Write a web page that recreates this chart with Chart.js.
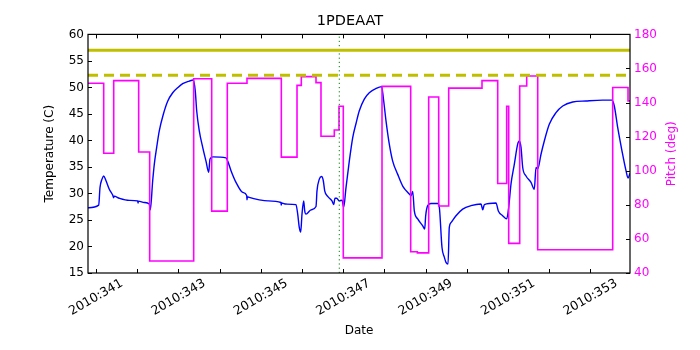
<!DOCTYPE html>
<html>
<head>
<meta charset="utf-8">
<script src="https://cdn.jsdelivr.net/npm/chart.js@4"></script>
<style>
  html, body { margin: 0; padding: 0; background: #fff; }
  #wrap { width: 700px; height: 350px; }
</style>
</head>
<body>
<div id="wrap"><canvas id="chart"></canvas></div>
<script>
// ---------------- Data ----------------
const xMin = 340.806;
const xMax = 353.961;
const dayTicks = [341, 342, 343, 344, 345, 346, 347, 348, 349, 350, 351, 352, 353];

const limitSolid = 57.0;
const limitDashed = 52.3;
const markerDay = 346.905;

// 1PDEAAT temperature (C)
const tempDays = [
  340.806, 341.066, 341.097, 341.146, 341.187, 341.243, 341.323, 341.405, 341.430, 341.440,
  341.566, 341.808, 342.012, 342.020, 342.030, 342.172, 342.294, 342.318, 342.376, 342.415,
  342.473, 342.536, 342.633, 342.740, 342.862, 342.990, 343.104, 343.265, 343.362, 343.410,
  343.444, 343.507, 343.590, 343.670, 343.735, 343.767, 343.833, 344.155, 344.197, 344.277,
  344.398, 344.561, 344.658, 344.665, 344.675, 344.721, 344.964, 345.175, 345.490, 345.495,
  345.505, 345.612, 345.854, 345.896, 345.934, 345.968, 346.000, 346.041, 346.066, 346.097,
  346.218, 346.340, 346.364, 346.420, 346.478, 346.517, 346.551, 346.624, 346.728, 346.769,
  346.801, 346.842, 346.905, 346.971, 347.012, 347.068, 347.148, 347.231, 347.311, 347.391,
  347.512, 347.633, 347.796, 347.934, 347.973, 348.039, 348.119, 348.201, 348.323, 348.444,
  348.604, 348.646, 348.687, 348.726, 348.808, 348.930, 348.978, 349.002, 349.051, 349.131,
  349.294, 349.333, 349.398, 349.454, 349.495, 349.544, 349.575, 349.617, 349.738, 349.900,
  350.102, 350.345, 350.386, 350.425, 350.709, 350.765, 350.871, 350.968, 351.017, 351.073,
  351.153, 351.235, 351.274, 351.316, 351.357, 351.437, 351.558, 351.638, 351.680, 351.721,
  351.801, 351.881, 352.002, 352.165, 352.328, 352.570, 352.893, 353.299, 353.524, 353.580,
  353.663, 353.767, 353.864, 353.913, 353.961
];
const tempValues = [
  27.3, 27.8, 31.1, 32.7, 33.3, 32.4, 30.8, 29.7, 29.2, 29.5,
  29.1, 28.7, 28.6, 28.2, 28.55, 28.3, 28.0, 26.9, 32.4, 35.5,
  38.7, 41.8, 44.9, 47.4, 49.0, 50.0, 50.7, 51.2, 51.4, 49.3,
  45.6, 41.8, 38.7, 36.1, 34.0, 36.5, 36.9, 36.7, 36.1, 34.3,
  32.1, 30.2, 29.6, 28.8, 29.4, 29.25, 28.8, 28.6, 28.3, 27.8,
  28.2, 28.0, 27.9, 26.1, 23.6, 22.7, 26.1, 28.6, 26.7, 26.1,
  26.9, 27.55, 30.5, 32.7, 33.2, 32.4, 30.5, 29.45, 28.6, 27.9,
  29.1, 29.1, 28.6, 28.75, 27.4, 31.1, 36.1, 40.55, 43.2, 45.6,
  47.8, 49.0, 49.8, 50.15, 48.1, 43.7, 39.3, 36.1, 33.6, 31.4,
  29.9, 29.55, 30.4, 26.7, 25.2, 23.9, 23.3, 25.8, 27.7, 28.1,
  28.1, 27.4, 19.8, 18.0, 17.0, 16.7, 23.6, 24.5, 25.8, 27.05,
  27.7, 28.0, 26.9, 27.9, 28.2, 26.7, 25.8, 25.2, 27.4, 31.8,
  35.5, 39.3, 39.9, 38.7, 34.9, 33.3, 32.1, 30.8, 34.9, 34.6,
  37.4, 39.9, 43.05, 45.25, 46.5, 47.25, 47.45, 47.6, 47.6, 46.5,
  42.4, 38.0, 34.3, 32.9, 33.8
];

// Pitch (deg), value holds from each day until the next one
const pitchDays = [
  340.806, 341.187, 341.430, 342.036, 342.303, 343.371, 343.808, 344.187, 344.665, 345.498,
  345.879, 345.983, 346.340, 346.461, 346.784, 346.898, 347.002, 347.942, 348.638, 348.800,
  349.075, 349.318, 349.561, 350.369, 350.750, 350.968, 351.017, 351.284, 351.454, 351.721,
  353.541, 353.913, 353.961
];
const pitchValues = [
  151.3, 110.3, 152.9, 111.0, 47.0, 154.0, 76.3, 151.3, 154.2, 108.0,
  150.1, 155.2, 151.7, 120.2, 123.9, 137.8, 48.9, 149.5, 52.5, 51.8,
  143.3, 79.3, 148.5, 152.9, 92.5, 137.8, 57.4, 149.7, 155.6, 53.6,
  148.8, 141.0, 141.0
];

// ---------------- Chart ----------------
const FONT = "'DejaVu Sans', sans-serif";
const MAGENTA = "#ff00ff";

const toPoints = (xs, ys) => xs.map((x, i) => ({ x: x, y: ys[i] }));

// matplotlib style frame, inward ticks and the right axis title (reads bottom to top)
const frameTicks = {
  id: "frameTicks",
  afterDatasetsDraw(chart) {
    const { ctx, chartArea: a, scales } = chart;
    const len = 4;
    ctx.save();
    ctx.strokeStyle = "#000";
    ctx.lineWidth = 1;
    ctx.beginPath();
    dayTicks.forEach(d => {
      const px = Math.round(scales.x.getPixelForValue(d)) + 0.5;
      ctx.moveTo(px, a.bottom); ctx.lineTo(px, a.bottom - len);
      ctx.moveTo(px, a.top); ctx.lineTo(px, a.top + len);
    });
    scales.y.ticks.forEach(t => {
      const py = Math.round(scales.y.getPixelForValue(t.value)) + 0.5;
      ctx.moveTo(a.left, py); ctx.lineTo(a.left + len, py);
    });
    scales.y2.ticks.forEach(t => {
      const py = Math.round(scales.y2.getPixelForValue(t.value)) + 0.5;
      ctx.moveTo(a.right, py); ctx.lineTo(a.right - len, py);
    });
    ctx.stroke();
    ctx.lineWidth = 1.2;
    ctx.strokeRect(a.left, a.top, a.right - a.left, a.bottom - a.top);

    ctx.translate(672, (a.top + a.bottom) / 2);
    ctx.rotate(-Math.PI / 2);
    ctx.fillStyle = MAGENTA;
    ctx.font = "12px " + FONT;
    ctx.textAlign = "center";
    ctx.textBaseline = "middle";
    ctx.fillText("Pitch (deg)", 0, 0);
    ctx.restore();
  }
};

new Chart(document.getElementById("chart"), {
  type: "line",
  data: {
    datasets: [
      {
        label: "limit",
        data: toPoints([xMin, xMax], [limitSolid, limitSolid]),
        yAxisID: "y", borderColor: "#bfbf00", borderWidth: 3, order: 1
      },
      {
        label: "limit dashed",
        data: toPoints([xMin, xMax], [limitDashed, limitDashed]),
        yAxisID: "y", borderColor: "#bfbf00", borderWidth: 3, borderDash: [10, 6], order: 1
      },
      {
        label: "now",
        data: toPoints([markerDay, markerDay], [15, 60]),
        yAxisID: "y", borderColor: "#008000", borderWidth: 1, borderDash: [1.2, 3], order: 2
      },
      {
        label: "Pitch",
        data: toPoints(pitchDays, pitchValues),
        yAxisID: "y2", borderColor: MAGENTA, borderWidth: 1.6, stepped: true, order: 3
      },
      {
        label: "1PDEAAT",
        data: toPoints(tempDays, tempValues),
        yAxisID: "y", borderColor: "#0000ff", borderWidth: 1.4,
        cubicInterpolationMode: "monotone", order: 4
      }
    ]
  },
  options: {
    responsive: true,
    maintainAspectRatio: false,
    animation: false,
    events: [],
    layout: { padding: 0 },
    elements: { point: { radius: 0 } },
    plugins: {
      legend: { display: false },
      tooltip: { enabled: false },
      title: {
        display: true,
        text: "1PDEAAT",
        color: "#000",
        font: { family: FONT, size: 14.5, weight: "normal" },
        padding: { top: 13, bottom: 4 }
      }
    },
    scales: {
      x: {
        type: "linear",
        min: xMin,
        max: xMax,
        afterBuildTicks: s => { s.ticks = dayTicks.map(v => ({ value: v })); },
        afterFit: s => { s.height = 77; },
        grid: { display: false, drawTicks: false },
        border: { display: false },
        ticks: {
          color: "#000",
          font: { family: FONT, size: 12.5 },
          minRotation: 30,
          maxRotation: 30,
          padding: 3,
          labelOffset: 26,
          autoSkip: false,
          callback: v => (v % 2 === 1 ? "2010:" + v : "")
        },
        title: {
          display: true,
          text: "Date",
          color: "#000",
          font: { family: FONT, size: 12 },
          padding: { top: 0, bottom: 12 }
        }
      },
      y: {
        position: "left",
        min: 15,
        max: 60,
        afterFit: s => { s.width = 88; },
        grid: { display: false, drawTicks: false },
        border: { display: false },
        ticks: { stepSize: 5, color: "#000", font: { family: FONT, size: 12 }, padding: 4 },
        title: {
          display: true,
          text: "Temperature (C)",
          color: "#000",
          font: { family: FONT, size: 12 },
          padding: { top: 43, bottom: 0 }
        }
      },
      y2: {
        position: "right",
        min: 40,
        max: 180,
        afterFit: s => { s.width = 70; },
        grid: { display: false, drawTicks: false },
        border: { display: false },
        ticks: { stepSize: 20, color: MAGENTA, font: { family: FONT, size: 12 }, padding: 4 },
        title: { display: false }
      }
    }
  },
  plugins: [frameTicks]
});
</script>
</body>
</html>
